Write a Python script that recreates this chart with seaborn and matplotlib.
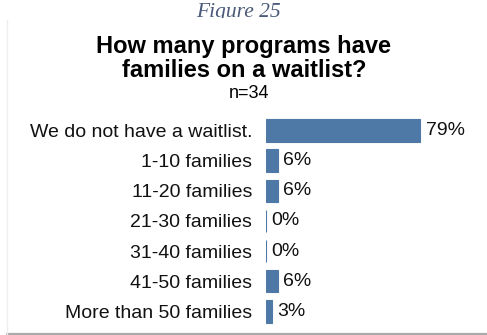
import matplotlib
matplotlib.use("Agg")
import matplotlib.pyplot as plt
from matplotlib.patches import Rectangle
from matplotlib.lines import Line2D
import seaborn as sns
import pandas as pd

categories = ["We do not have a waitlist.", "1-10 families", "11-20 families",
              "21-30 families", "31-40 families", "41-50 families",
              "More than 50 families"]
values = [79, 6, 6, 0, 0, 6, 3]
value_labels = ["79%", "6%", "6%", "0%", "0%", "6%", "3%"]

sns.set_theme(style="white")
plt.rcParams['font.family'] = ['Liberation Sans', 'DejaVu Sans']

W, H = 487, 335
fig = plt.figure(figsize=(W / 100, H / 100), dpi=100)
fig.patch.set_facecolor("white")

def fx(px):
    return px / W

def fy(py):
    return 1 - py / H

# "Figure 25" caption partially hidden behind chart box
fig.text(fx(238), fy(17), "Figure 25", ha="center", va="baseline",
         fontsize=15.5, style="italic", family=["Liberation Serif", "DejaVu Serif"],
         color="#4a5a78", zorder=0.5)
# chart box
box = Rectangle((fx(7), fy(333)), 1 - fx(7), fy(18) - fy(333),
                transform=fig.transFigure, facecolor="white", edgecolor="none",
                zorder=1)
fig.patches.append(box)
fig.lines.append(Line2D([fx(7), 1], [fy(333.5), fy(333.5)], transform=fig.transFigure,
                        color="#aaaaaa", linewidth=1.6, zorder=1.2))
fig.lines.append(Line2D([fx(7), fx(7)], [fy(333.5), fy(20)], transform=fig.transFigure,
                        color="#eeeeee", linewidth=1.0, zorder=1.2))

fig.text(fx(244), fy(52.5), "How many programs have", ha="center", va="baseline",
         fontsize=17, fontweight="bold", color="black", zorder=3)
fig.text(fx(244), fy(77), "families on a waitlist?", ha="center", va="baseline",
         fontsize=17, fontweight="bold", color="black", zorder=3)
fig.text(fx(249), fy(97.5), "n=34", ha="center", va="baseline",
         fontsize=13, color="black", zorder=3)

# axes: x0 at 266px, 1.949 px per %, rows spaced 30.13 px, first center 130.5
px_per = 1.949
top = 130.5 - 30.13 / 2
bottom = 311.3 + 30.13 / 2
ax = fig.add_axes([fx(266), fy(bottom), 100 * px_per / W, (bottom - top) / H])
ax.set_zorder(2)
ax.patch.set_alpha(0)

df = pd.DataFrame({"category": categories, "value": values})
sns.barplot(data=df, x="value", y="category", orient="h", color="#4e79a7",
            saturation=1, width=0.745, edgecolor="#4e79a7", linewidth=0.8, ax=ax)
ax.set_xlim(0, 100)
ax.set_ylim(len(categories) - 0.5, -0.5)
ax.bar_label(ax.containers[0], labels=value_labels, padding=4, fontsize=14,
             color="#111111")
ax.set_xlabel("")
ax.set_ylabel("")
ax.set_xticks([])
ax.tick_params(axis="y", length=0, pad=10, labelsize=14, labelcolor="#111111")
for s in ax.spines.values():
    s.set_visible(False)

fig.savefig("out.png", dpi=100)
